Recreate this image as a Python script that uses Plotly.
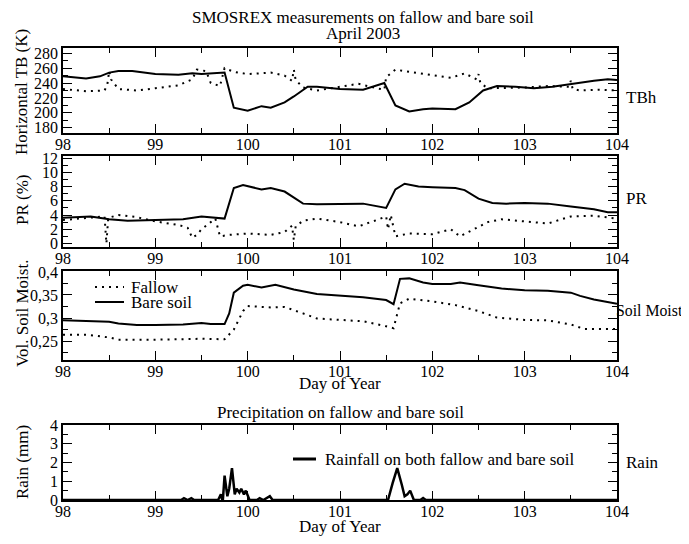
import plotly.graph_objects as go

# ---- data ----
days_tbh_bare = [98.0, 98.25, 98.4, 98.5, 98.6, 98.75, 99.0, 99.25, 99.4, 99.5, 99.75, 99.85,
                 100.0, 100.15, 100.25, 100.4, 100.5, 100.65, 100.75, 101.0, 101.25, 101.48,
                 101.6, 101.75, 101.9, 102.0, 102.25, 102.4, 102.55, 102.7, 102.9, 103.1,
                 103.3, 103.5, 103.75, 103.9, 104.0]
tbh_bare = [249, 246, 249, 254, 256, 256, 252, 251, 253, 252, 254, 207,
            203, 209, 207, 214, 222, 235, 235, 232, 231, 240,
            210, 202, 205, 206, 205, 214, 230, 236, 235, 233,
            235, 239, 243, 245, 244]

days_tbh_fallow = [98.0, 98.25, 98.45, 98.48, 98.5, 98.52, 98.6, 98.8, 99.0, 99.25, 99.4, 99.45,
                   99.55, 99.6, 99.7, 99.75, 99.85, 100.0, 100.25, 100.4, 100.48, 100.5, 100.52,
                   100.6, 100.75, 101.0, 101.2, 101.4, 101.48, 101.5, 101.6, 101.75, 102.0,
                   102.2, 102.35, 102.48, 102.5, 102.52, 102.6, 102.8, 103.0, 103.25, 103.48,
                   103.5, 103.52, 103.6, 103.8, 104.0]
tbh_fallow = [232, 229, 230, 238, 256, 245, 232, 230, 233, 237, 245, 258,
              256, 240, 236, 260, 255, 252, 254, 250, 243, 258, 244,
              234, 230, 235, 239, 233, 231, 248, 258, 255, 251,
              247, 253, 245, 252, 240, 233, 233, 234, 236, 235,
              243, 232, 230, 231, 230]

days_pr_bare = [98.0, 98.3, 98.5, 98.7, 99.0, 99.3, 99.5, 99.75, 99.85, 99.95, 100.15, 100.25,
                100.4, 100.6, 100.75, 101.0, 101.25, 101.5, 101.6, 101.7, 101.85, 102.0,
                102.25, 102.35, 102.5, 102.65, 102.8, 103.0, 103.25, 103.5, 103.75, 103.9, 104.0]
pr_bare = [3.6, 3.8, 3.4, 3.2, 3.3, 3.4, 3.8, 3.5, 7.8, 8.2, 7.6, 7.8,
           7.3, 5.6, 5.5, 5.5, 5.6, 5.0, 7.6, 8.4, 8.0, 7.9,
           7.8, 7.5, 6.3, 5.7, 5.6, 5.7, 5.6, 5.2, 4.8, 4.4, 4.4]

days_pr_fallow = [98.0, 98.25, 98.45, 98.47, 98.49, 98.6, 98.8, 99.0, 99.25, 99.35, 99.4, 99.45,
                  99.5, 99.6, 99.65, 99.7, 99.8, 100.0, 100.25, 100.4, 100.48, 100.5, 100.52,
                  100.6, 100.75, 101.0, 101.2, 101.4, 101.5, 101.52, 101.55, 101.6, 101.75,
                  102.0, 102.2, 102.3, 102.45, 102.6, 102.75, 103.0, 103.25, 103.5, 103.75, 104.0]
pr_fallow = [3.3, 3.6, 3.8, 0.0, 3.6, 4.0, 3.7, 3.1, 2.6, 2.2, 0.8, 1.2,
             2.0, 3.0, 3.5, 1.0, 1.2, 1.4, 1.2, 1.6, 2.5, 0.5, 2.4,
             3.2, 3.5, 3.0, 2.4, 3.3, 3.8, 2.0, 4.0, 1.0, 1.4,
             1.3, 2.0, 1.0, 2.0, 3.0, 3.4, 3.1, 2.8, 3.8, 3.9, 3.5]

days_sm_bare = [98.0, 98.5, 98.6, 98.8, 99.0, 99.3, 99.5, 99.6, 99.75, 99.8, 99.85, 99.95,
                100.0, 100.15, 100.3, 100.5, 100.75, 101.0, 101.25, 101.5, 101.58, 101.65,
                101.75, 101.9, 102.0, 102.2, 102.3, 102.5, 102.75, 103.0, 103.25, 103.5,
                103.6, 103.75, 104.0]
sm_bare = [0.295, 0.292, 0.288, 0.285, 0.285, 0.286, 0.289, 0.287, 0.287, 0.31, 0.355, 0.37,
           0.372, 0.366, 0.372, 0.362, 0.352, 0.349, 0.345, 0.339, 0.330, 0.385,
           0.386, 0.377, 0.374, 0.374, 0.377, 0.371, 0.364, 0.360, 0.359, 0.355,
           0.348, 0.340, 0.331]

days_sm_fallow = [98.0, 98.25, 98.5, 98.6, 99.0, 99.5, 99.75, 99.85, 99.95, 100.0, 100.25, 100.4,
                  100.6, 100.75, 101.0, 101.25, 101.5, 101.58, 101.65, 101.75, 102.0, 102.25,
                  102.5, 102.7, 103.0, 103.25, 103.5, 103.65, 104.0]
sm_fallow = [0.264, 0.264, 0.258, 0.253, 0.253, 0.255, 0.254, 0.275, 0.315, 0.326, 0.323, 0.324,
             0.310, 0.299, 0.296, 0.293, 0.282, 0.278, 0.332, 0.342, 0.336, 0.328,
             0.315, 0.301, 0.296, 0.295, 0.286, 0.276, 0.276]

days_rain = [98.0, 99.28, 99.31, 99.35, 99.39, 99.42, 99.68, 99.71, 99.73, 99.75, 99.78, 99.80,
             99.83, 99.86, 99.88, 99.91, 99.93, 99.96, 99.98, 100.02, 100.1, 100.13, 100.17,
             100.21, 100.24, 100.27, 101.52, 101.57, 101.62, 101.67, 101.7, 101.73, 101.76,
             101.8, 101.87, 101.9, 101.93, 104.0]
rain = [0.0, 0.0, 0.1, 0.0, 0.1, 0.0, 0.0, 0.3, -0.1, 1.3, 0.2, 0.6,
        1.7, 0.3, 0.6, 0.4, 0.6, 0.3, 0.5, 0.0, 0.0, 0.1, 0.0,
        0.1, 0.2, 0.0, 0.0, 0.9, 1.7, 0.8, 0.2, 0.3, 0.5,
        0.0, 0.0, 0.1, 0.0, 0.0]

FONT = "Liberation Serif, Times New Roman, Nimbus Roman, DejaVu Serif, serif"
# the page has an 8px body margin; size the figure so the page fits the window
OFF = 8
W, H = 689 - 2 * OFF, 544 - 2 * OFF
DOT = "2px,5px"


def px(x):
    return (x - OFF) / W


def py(y):
    return 1 - (y - OFF) / H


fig = go.Figure()

# panel 1: TBh
fig.add_trace(go.Scatter(x=days_tbh_fallow, y=tbh_fallow, mode="lines", showlegend=False,
                         line=dict(color="black", width=2, dash=DOT), xaxis="x", yaxis="y"))
fig.add_trace(go.Scatter(x=days_tbh_bare, y=tbh_bare, mode="lines", showlegend=False,
                         line=dict(color="black", width=2), xaxis="x", yaxis="y"))
# panel 2: PR
fig.add_trace(go.Scatter(x=days_pr_fallow, y=pr_fallow, mode="lines", showlegend=False,
                         line=dict(color="black", width=2, dash=DOT), xaxis="x2", yaxis="y2"))
fig.add_trace(go.Scatter(x=days_pr_bare, y=pr_bare, mode="lines", showlegend=False,
                         line=dict(color="black", width=2), xaxis="x2", yaxis="y2"))
# panel 3: soil moisture
fig.add_trace(go.Scatter(x=days_sm_fallow, y=sm_fallow, mode="lines", showlegend=False,
                         line=dict(color="black", width=2, dash=DOT), xaxis="x3", yaxis="y3"))
fig.add_trace(go.Scatter(x=days_sm_bare, y=sm_bare, mode="lines", showlegend=False,
                         line=dict(color="black", width=2), xaxis="x3", yaxis="y3"))
# panel 4: rain
fig.add_trace(go.Scatter(x=days_rain, y=rain, mode="lines", showlegend=False,
                         line=dict(color="black", width=2.5), xaxis="x4", yaxis="y4"))

tickfont = dict(family=FONT, size=16, color="black")
axis = dict(showline=True, linecolor="black", linewidth=1.5, mirror="ticks",
            ticks="inside", ticklen=9, tickwidth=1.2, tickcolor="black",
            showgrid=False, zeroline=False, tickfont=tickfont)


def xax(anchor):
    return dict(axis, range=[98, 104], dtick=1, tick0=98, anchor=anchor,
                domain=[px(63), px(617)], ticklabelstandoff=-4,
                minor=dict(ticks="inside", ticklen=5, tickcolor="black", tickwidth=1, dtick=0.5))


def yax(anchor, top, bottom, rng, dtick, mdtick):
    return dict(axis, range=rng, dtick=dtick, anchor=anchor,
                domain=[py(bottom), py(top)], ticklabelstandoff=0,
                minor=dict(ticks="inside", ticklen=5, tickcolor="black", tickwidth=1, dtick=mdtick))


panels = [(48, 133), (156, 247), (271, 360), (425, 500)]
fig.update_layout(
    xaxis=xax("y"),
    yaxis=yax("x", *panels[0], [173, 287], 20, 10),
    xaxis2=xax("y2"),
    yaxis2=yax("x2", *panels[1], [-0.5, 12.3], 2, 1),
    xaxis3=xax("y3"),
    yaxis3=yax("x3", *panels[2], [0.209, 0.402], 0.05, 0.025),
    xaxis4=xax("y4"),
    yaxis4=yax("x4", *panels[3], [0, 4], 1, 0.5),
)

ann = []


def text(x, y, s, size=16, angle=0, xanchor="center"):
    ann.append(dict(x=px(x), y=py(y), xref="paper", yref="paper", text=s, showarrow=False,
                    textangle=angle, xanchor=xanchor, yanchor="middle",
                    font=dict(family=FONT, size=size, color="black")))


text(363, 17, "SMOSREX measurements on fallow and bare soil", 17)
text(363, 34, "April 2003", 17)
text(22, 92, "Horizontal TB (K)", 17, -90)
text(22, 200, "PR (%)", 17, -90)
text(22, 314, "Vol. Soil Moist.", 17, -90)
text(22, 462, "Rain (mm)", 17, -90)
text(624, 97, "TBh", 17, xanchor="left")
text(624, 198, "PR", 17, xanchor="left")
text(614, 310, "Soil Moist", 15.8, xanchor="left")
text(624, 462, "Rain", 17, xanchor="left")
text(340, 383, "Day of Year", 17)
text(340, 526, "Day of Year", 17)
text(340, 412, "Precipitation on fallow and bare soil", 17)

# legend keys (drawn by hand to get the tight spacing of the original)
text(129, 287, "Fallow", 17, xanchor="left")
text(129, 302, "Bare soil", 17, xanchor="left")
text(323, 459, "Rainfall on both fallow and bare soil", 17, xanchor="left")
shapes = [
    dict(type="line", xref="paper", yref="paper", x0=px(95), x1=px(124), y0=py(287), y1=py(287),
         line=dict(color="black", width=2, dash=DOT)),
    dict(type="line", xref="paper", yref="paper", x0=px(95), x1=px(124), y0=py(302), y1=py(302),
         line=dict(color="black", width=2)),
    dict(type="line", xref="paper", yref="paper", x0=px(293), x1=px(316), y0=py(459), y1=py(459),
         line=dict(color="black", width=3)),
]

fig.update_layout(
    width=W, height=H,
    margin=dict(l=0, r=0, t=0, b=0, autoexpand=False),
    paper_bgcolor="white", plot_bgcolor="white",
    separators=",.",
    showlegend=False,
    annotations=ann,
    shapes=shapes,
)

fig.write_html("out.html")
